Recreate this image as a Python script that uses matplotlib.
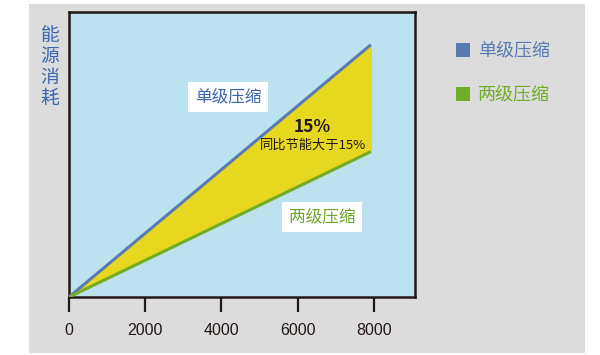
import matplotlib.pyplot as plt
from matplotlib.patches import Rectangle

plt.rcParams['font.family'] = ['Noto Sans CJK SC', 'DejaVu Sans']

# energy consumption vs. running load (arbitrary units)
load = [0, 7920]
single_stage = [0, 88.5]
two_stage = [0, 51]
xticks = [0, 2000, 4000, 6000, 8000]

series_names = ['单级压缩', '两级压缩']
series_colors = ['#5a7bb2', '#72ad2a']
label_colors = ['#3b66b0', '#6aa62a']

fig = plt.figure(figsize=(6, 3.55), dpi=100)
fig.patch.set_facecolor('white')
fig.patches.append(Rectangle((29 / 600, 2 / 355), 556 / 600, 349 / 355,
                             transform=fig.transFigure, facecolor='#dcdcdc',
                             edgecolor='none', zorder=-5))

ax = fig.add_axes([69 / 600, 58 / 355, 346 / 600, 285 / 355])
ax.set_zorder(2)
ax.set_facecolor('#bde2ef')
ax.fill_between(load, two_stage, single_stage, color='#e7d81f', zorder=2)
ax.plot(load, single_stage, color=series_colors[0], lw=2.2, zorder=3,
        solid_capstyle='butt')
ax.plot(load, two_stage, color=series_colors[1], lw=2.2, zorder=3,
        solid_capstyle='butt')

ax.set_xlim(0, 9080)
ax.set_ylim(0, 100)
ax.set_xticks(xticks)
ax.set_xticklabels([str(t) for t in xticks], fontsize=11.5, color='#231815',
                   family=['Liberation Sans', 'DejaVu Sans'])
ax.tick_params(axis='x', direction='out', length=11, width=1.6,
               color='#231815', pad=8)
ax.set_yticks([])
for s in ax.spines.values():
    s.set_color('#231815')
    s.set_linewidth(1.8)

# y label: vertical stacked characters
fig.text(50 / 600, 1 - 67 / 355, '能\n源\n消\n耗', ha='center', va='center',
         fontsize=13.5, color=label_colors[0], linespacing=1.0,
         fontweight='medium', zorder=3)

# in-plot labels
ax.text(159 / 346, 1 - 85 / 285, series_names[0], transform=ax.transAxes,
        ha='center', va='center', fontsize=12, color=label_colors[0],
        fontweight='medium', zorder=5,
        bbox=dict(facecolor='white', edgecolor='none', pad=4.5))
ax.text(253 / 346, 1 - 205 / 285, series_names[1], transform=ax.transAxes,
        ha='center', va='center', fontsize=12, color=label_colors[1],
        fontweight='medium', zorder=5,
        bbox=dict(facecolor='white', edgecolor='none', pad=4.5))
ax.text(243 / 346, 1 - 115 / 285, '15%', transform=ax.transAxes,
        ha='center', va='center', fontsize=12.5, fontweight='bold',
        color='#231815', zorder=5)
ax.text(244 / 346, 1 - 133 / 285, '同比节能大于15%', transform=ax.transAxes,
        ha='center', va='center', fontsize=9.5, color='#231815', zorder=5)

# legend
for i, (name, c) in enumerate(zip(series_names, series_colors)):
    yc = 1 - (50 + 44 * i) / 355
    fig.patches.append(Rectangle((456 / 600, yc - 7 / 355), 14 / 600, 14 / 355,
                                 transform=fig.transFigure, facecolor=c,
                                 edgecolor='none', zorder=2))
    fig.text(478 / 600, yc, name, ha='left', va='center', fontsize=13,
             color=c, fontweight='medium')

fig.savefig('out.png', dpi=100)
